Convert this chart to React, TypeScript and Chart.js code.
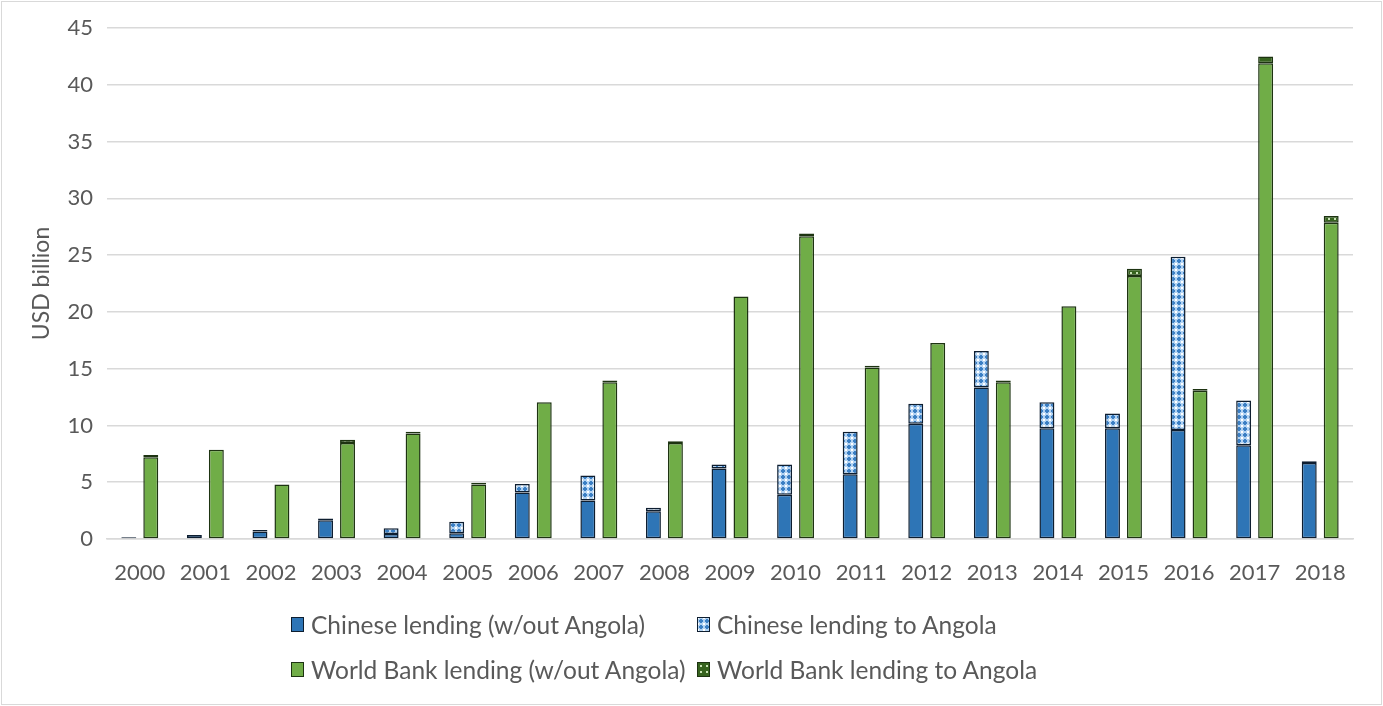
import { useEffect, useRef, useState } from "react";
import { Chart, registerables } from "chart.js";

Chart.register(...registerables);

// values (USD billion)
const years = [
  "2000", "2001", "2002", "2003", "2004", "2005", "2006", "2007", "2008", "2009",
  "2010", "2011", "2012", "2013", "2014", "2015", "2016", "2017", "2018",
];
const chineseExAngola = [
  0.15, 0.35, 0.65, 1.65, 0.44, 0.5, 4.1, 3.4, 2.45, 6.2,
  3.9, 5.7, 10.15, 13.35, 9.75, 9.75, 9.6, 8.25, 6.7,
];
const chineseAngola = [
  0, 0, 0.15, 0.15, 0.5, 1.02, 0.75, 2.2, 0.3, 0.35,
  2.65, 3.75, 1.75, 3.2, 2.3, 1.3, 15.25, 3.95, 0.15,
];
const worldBankExAngola = [
  7.2, 7.85, 4.8, 8.45, 9.3, 4.8, 12.05, 13.8, 8.45, 21.35,
  26.65, 15.1, 17.25, 13.8, 20.5, 23.15, 13.05, 41.9, 27.85,
];
const worldBankAngola = [
  0.2, 0, 0, 0.3, 0.15, 0.15, 0, 0.15, 0.15, 0,
  0.25, 0.15, 0, 0.15, 0, 0.65, 0.15, 0.6, 0.6,
];
const legendLabels = [
  "Chinese lending (w/out Angola)",
  "Chinese lending to Angola",
  "World Bank lending (w/out Angola)",
  "World Bank lending to Angola",
];

const TEXT = "#595959";
const FONT = "Lato, 'Open Sans', sans-serif";
const BLUE = "#2e75b6";
const GREEN = "#70ad47";
const BLUE_EDGE = "#0e1e30";
const GREEN_EDGE = "#1d3311";

// small repeating tiles for the "to Angola" fills
function makeTile(kind: "blue" | "green"): HTMLCanvasElement {
  const c = document.createElement("canvas");
  c.width = 6;
  c.height = 6;
  const g = c.getContext("2d")!;
  if (kind === "blue") {
    g.fillStyle = "#b3d3f2";
    g.fillRect(0, 0, 6, 6);
    g.fillStyle = "#3b7fc4";
    g.fillRect(2, 1, 2, 4);
    g.fillRect(1, 2, 4, 2);
    g.fillStyle = "#ffffff";
    g.fillRect(0, 0, 1, 1);
    g.fillRect(5, 0, 1, 1);
    g.fillRect(0, 5, 1, 1);
    g.fillRect(5, 5, 1, 1);
  } else {
    g.fillStyle = "#36631e";
    g.fillRect(0, 0, 6, 6);
    g.fillStyle = "#c9e3b5";
    g.fillRect(2, 2, 2, 2);
  }
  return c;
}

const App = () => {
  const canvasRef = useRef<HTMLCanvasElement | null>(null);
  const chartRef = useRef<Chart | null>(null);
  const [tiles] = useState(() => ({ blue: makeTile("blue"), green: makeTile("green") }));

  useEffect(() => {
    if (!canvasRef.current) return;
    const ctx = canvasRef.current.getContext("2d");
    if (!ctx) return;
    if (chartRef.current) chartRef.current.destroy();

    const bluePattern = ctx.createPattern(tiles.blue, "repeat")!;
    const greenPattern = ctx.createPattern(tiles.green, "repeat")!;
    const edge = (c: any) => (c.raw === 0 ? 0 : 1.5);

    chartRef.current = new Chart(ctx, {
      type: "bar",
      data: {
        labels: years,
        datasets: [
          {
            label: legendLabels[0],
            data: chineseExAngola,
            stack: "china",
            backgroundColor: BLUE,
            borderColor: BLUE_EDGE,
          },
          {
            label: legendLabels[1],
            data: chineseAngola,
            stack: "china",
            backgroundColor: bluePattern,
            borderColor: BLUE_EDGE,
          },
          {
            label: legendLabels[2],
            data: worldBankExAngola,
            stack: "wb",
            backgroundColor: GREEN,
            borderColor: GREEN_EDGE,
          },
          {
            label: legendLabels[3],
            data: worldBankAngola,
            stack: "wb",
            backgroundColor: greenPattern,
            borderColor: GREEN_EDGE,
          },
        ],
      },
      options: {
        animation: false,
        responsive: true,
        maintainAspectRatio: false,
        layout: { padding: { top: 28, right: 30, bottom: 18.6, left: 0 } },
        datasets: {
          bar: {
            categoryPercentage: 0.67,
            barPercentage: 0.68,
            borderSkipped: false,
            borderWidth: edge,
          },
        },
        plugins: {
          legend: { display: false },
          tooltip: { enabled: false },
        },
        scales: {
          x: {
            stacked: true,
            grid: { display: false },
            border: { display: true, color: "#d9d9d9", width: 1.5 },
            ticks: {
              color: TEXT,
              font: { family: FONT, size: 22 },
              padding: 13,
              maxRotation: 0,
              autoSkip: false,
            },
          },
          y: {
            stacked: true,
            min: 0,
            max: 45,
            ticks: {
              stepSize: 5,
              color: TEXT,
              font: { family: FONT, size: 22 },
              padding: 14,
            },
            grid: { color: "#d9d9d9", lineWidth: 1.5, drawTicks: false },
            border: { display: false },
            title: {
              display: true,
              text: "USD billion",
              color: TEXT,
              font: { family: FONT, size: 23 },
              padding: { top: 28, bottom: 0 },
            },
            afterFit: (scale) => {
              scale.width = 107;
            },
          },
        },
      },
    });

    return () => {
      if (chartRef.current) {
        chartRef.current.destroy();
        chartRef.current = null;
      }
    };
  }, [tiles]);

  const swatches = [
    { background: BLUE, border: BLUE_EDGE },
    { background: `url(${tiles.blue.toDataURL()})`, border: BLUE_EDGE },
    { background: GREEN, border: GREEN_EDGE },
    { background: `url(${tiles.green.toDataURL()})`, border: GREEN_EDGE },
  ];

  return (
    <div
      style={{
        position: "fixed",
        left: 0,
        top: 0,
        width: 1383,
        height: 706,
        background: "#ffffff",
        overflow: "hidden",
      }}
    >
      <div
        style={{
          position: "absolute",
          left: 1,
          top: 1,
          width: 1379,
          height: 702,
          border: "1px solid #d9d9d9",
        }}
      />
      <div style={{ position: "absolute", left: 0, top: 0, width: 1383, height: 618 }}>
        <canvas ref={canvasRef} />
      </div>
      <div
        style={{
          position: "absolute",
          left: 291,
          top: 602,
          display: "grid",
          gridTemplateColumns: "406px 406px",
          gridAutoRows: "45px",
          fontFamily: FONT,
          fontSize: 24.5,
          color: TEXT,
        }}
      >
        {legendLabels.map((label, i) => (
          <div key={label} style={{ display: "flex", alignItems: "center", whiteSpace: "nowrap" }}>
            <span
              style={{
                display: "inline-block",
                width: 13,
                height: 15,
                marginRight: 7,
                boxSizing: "border-box",
                border: `1px solid ${swatches[i].border}`,
                background: swatches[i].background,
              }}
            />
            <span>{label}</span>
          </div>
        ))}
      </div>
    </div>
  );
};

export default App;
